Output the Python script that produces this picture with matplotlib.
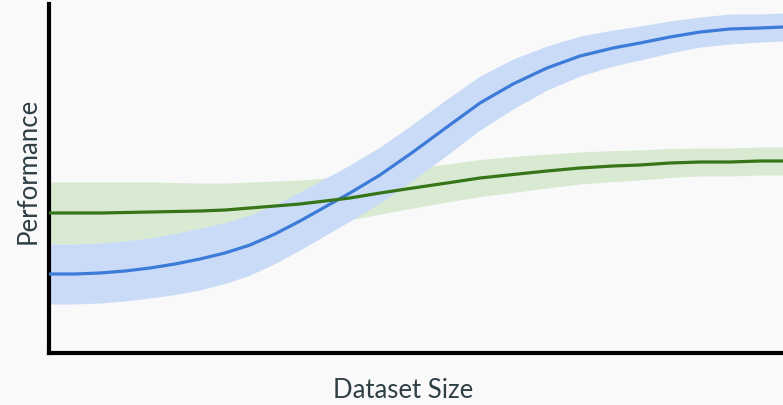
import matplotlib
matplotlib.use("Agg")
import matplotlib.pyplot as plt
import numpy as np

plt.rcParams['font.family'] = ['Lato', 'DejaVu Sans']

# dataset size (arbitrary units, no ticks shown)
size = [0, 26, 51, 76, 101, 126, 151, 176, 201, 226, 251, 276, 301, 331,
        364, 398, 431, 464, 498, 531, 564, 591, 621, 651, 681, 711, 734]

# model A: slow start, steep rise, high plateau
blue_mean = [79, 79, 80, 82, 85, 89, 94, 100, 108, 119, 132, 146, 160, 178,
             201, 226, 250, 269, 285, 297, 305, 310, 316, 321, 324, 325, 326]
blue_spread = [30, 30, 30, 30, 30, 30.5, 31, 30.5, 30, 29.5, 29, 28.5, 28, 28,
               28, 28, 27, 25, 22, 20, 18, 17, 16, 15, 15, 14, 14]

# model B: better with little data, flat afterwards
green_mean = [140, 140, 140, 140.5, 141, 141.5, 142, 143, 145, 147, 149, 152,
              155, 160, 165, 170, 175, 178.5, 182, 185, 187, 188, 190, 191,
              191, 192, 192]
green_spread = [31, 31, 31, 30.5, 30, 29, 28, 27, 26, 25, 24, 23, 22, 21, 20,
                19, 18.5, 18, 17, 16, 15.5, 15, 14.5, 14, 14, 14, 14]

bg = "#f9f9f9"
text_col = "#2f3f46"

fig = plt.figure(figsize=(7.83, 4.05), dpi=100, facecolor=bg)
ax = fig.add_axes([49 / 783, 52 / 405, 1 - 49 / 783, 349 / 405])
ax.set_facecolor(bg)

x = np.array(size)
bm, bs = np.array(blue_mean), np.array(blue_spread)
gm, gs = np.array(green_mean), np.array(green_spread)

ax.fill_between(x, gm - gs, gm + gs, color="#d9ead3", lw=0, zorder=1)
ax.fill_between(x, bm - bs, bm + bs, color="#c9dbf7", lw=0, zorder=2)
ax.plot(x, bm, color="#3c7bd8", lw=2.3, zorder=3, solid_capstyle="butt",
        solid_joinstyle="round")
ax.plot(x, gm, color="#367518", lw=2.3, zorder=4, solid_capstyle="butt",
        solid_joinstyle="round")

ax.set_xlim(0, size[-1])
ax.set_ylim(0, 349)
ax.set_xticks([])
ax.set_yticks([])
for side in ["top", "right"]:
    ax.spines[side].set_visible(False)
for side in ["left", "bottom"]:
    ax.spines[side].set_linewidth(3.0)
    ax.spines[side].set_color("black")

fig.text(403 / 783, 1 - 391 / 405, "Dataset Size", ha="center", va="center",
         fontsize=18.5, color=text_col)
fig.text(28 / 783, 1 - 171 / 405, "Performance", ha="center", va="center",
         rotation=90, fontsize=18.5, color=text_col)

fig.savefig("out.png", dpi=100, facecolor=bg)
